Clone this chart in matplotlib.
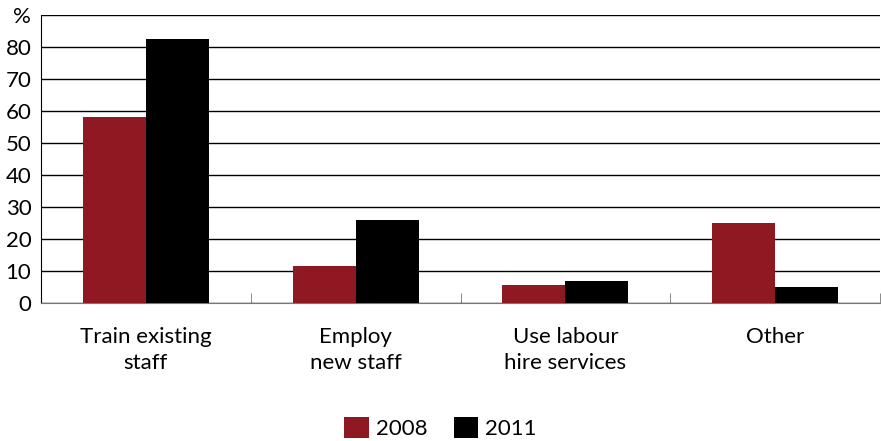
import matplotlib.pyplot as plt
import numpy as np

categories = ['Train existing\nstaff', 'Employ\nnew staff', 'Use labour\nhire services', 'Other']
vals_2008 = [58, 11.7, 5.6, 25]
vals_2011 = [82.5, 26, 6.8, 5]
years = ['2008', '2011']
colors = ['#8e1922', '#000000']

plt.rcParams['font.family'] = ['Lato', 'DejaVu Sans']

fig = plt.figure(figsize=(8.81, 4.41), dpi=100)
ax = fig.add_axes([41 / 881, 1 - 303 / 441, 839 / 881, 288 / 441])

x = np.arange(len(categories))
w = 0.3
ax.bar(x - w / 2, vals_2008, w, color=colors[0], label=years[0], zorder=3)
ax.bar(x + w / 2, vals_2011, w, color=colors[1], label=years[1], zorder=3)

ax.set_xlim(-0.5, len(categories) - 0.5)
ax.set_ylim(0, 90)
ax.set_yticks(range(0, 100, 10))
ax.set_yticklabels([str(v) for v in range(0, 90, 10)] + ['%'])
ax.yaxis.grid(True, color='black', linewidth=1, zorder=0)
ax.tick_params(axis='y', length=0, labelsize=16, pad=7)

# category labels centred, small ticks between groups
ax.set_xticks(x)
ax.set_xticklabels(categories, fontsize=16, linespacing=1.4)
ax.tick_params(axis='x', length=0, pad=17)
ax.set_xticks(np.arange(-0.5, len(categories)), minor=True)
ax.tick_params(axis='x', which='minor', direction='in', length=7, color='#777777')

for s in ['top', 'right']:
    ax.spines[s].set_visible(False)
ax.spines['left'].set_color('black')
ax.spines['bottom'].set_color('#777777')

fig.legend(loc='center', bbox_to_anchor=(0.5, 1 - 428 / 441), ncol=2, frameon=False,
           fontsize=16, handlelength=1.1, handleheight=1.1, handletextpad=0.3,
           columnspacing=1.2)

fig.savefig('out.png', dpi=100)
